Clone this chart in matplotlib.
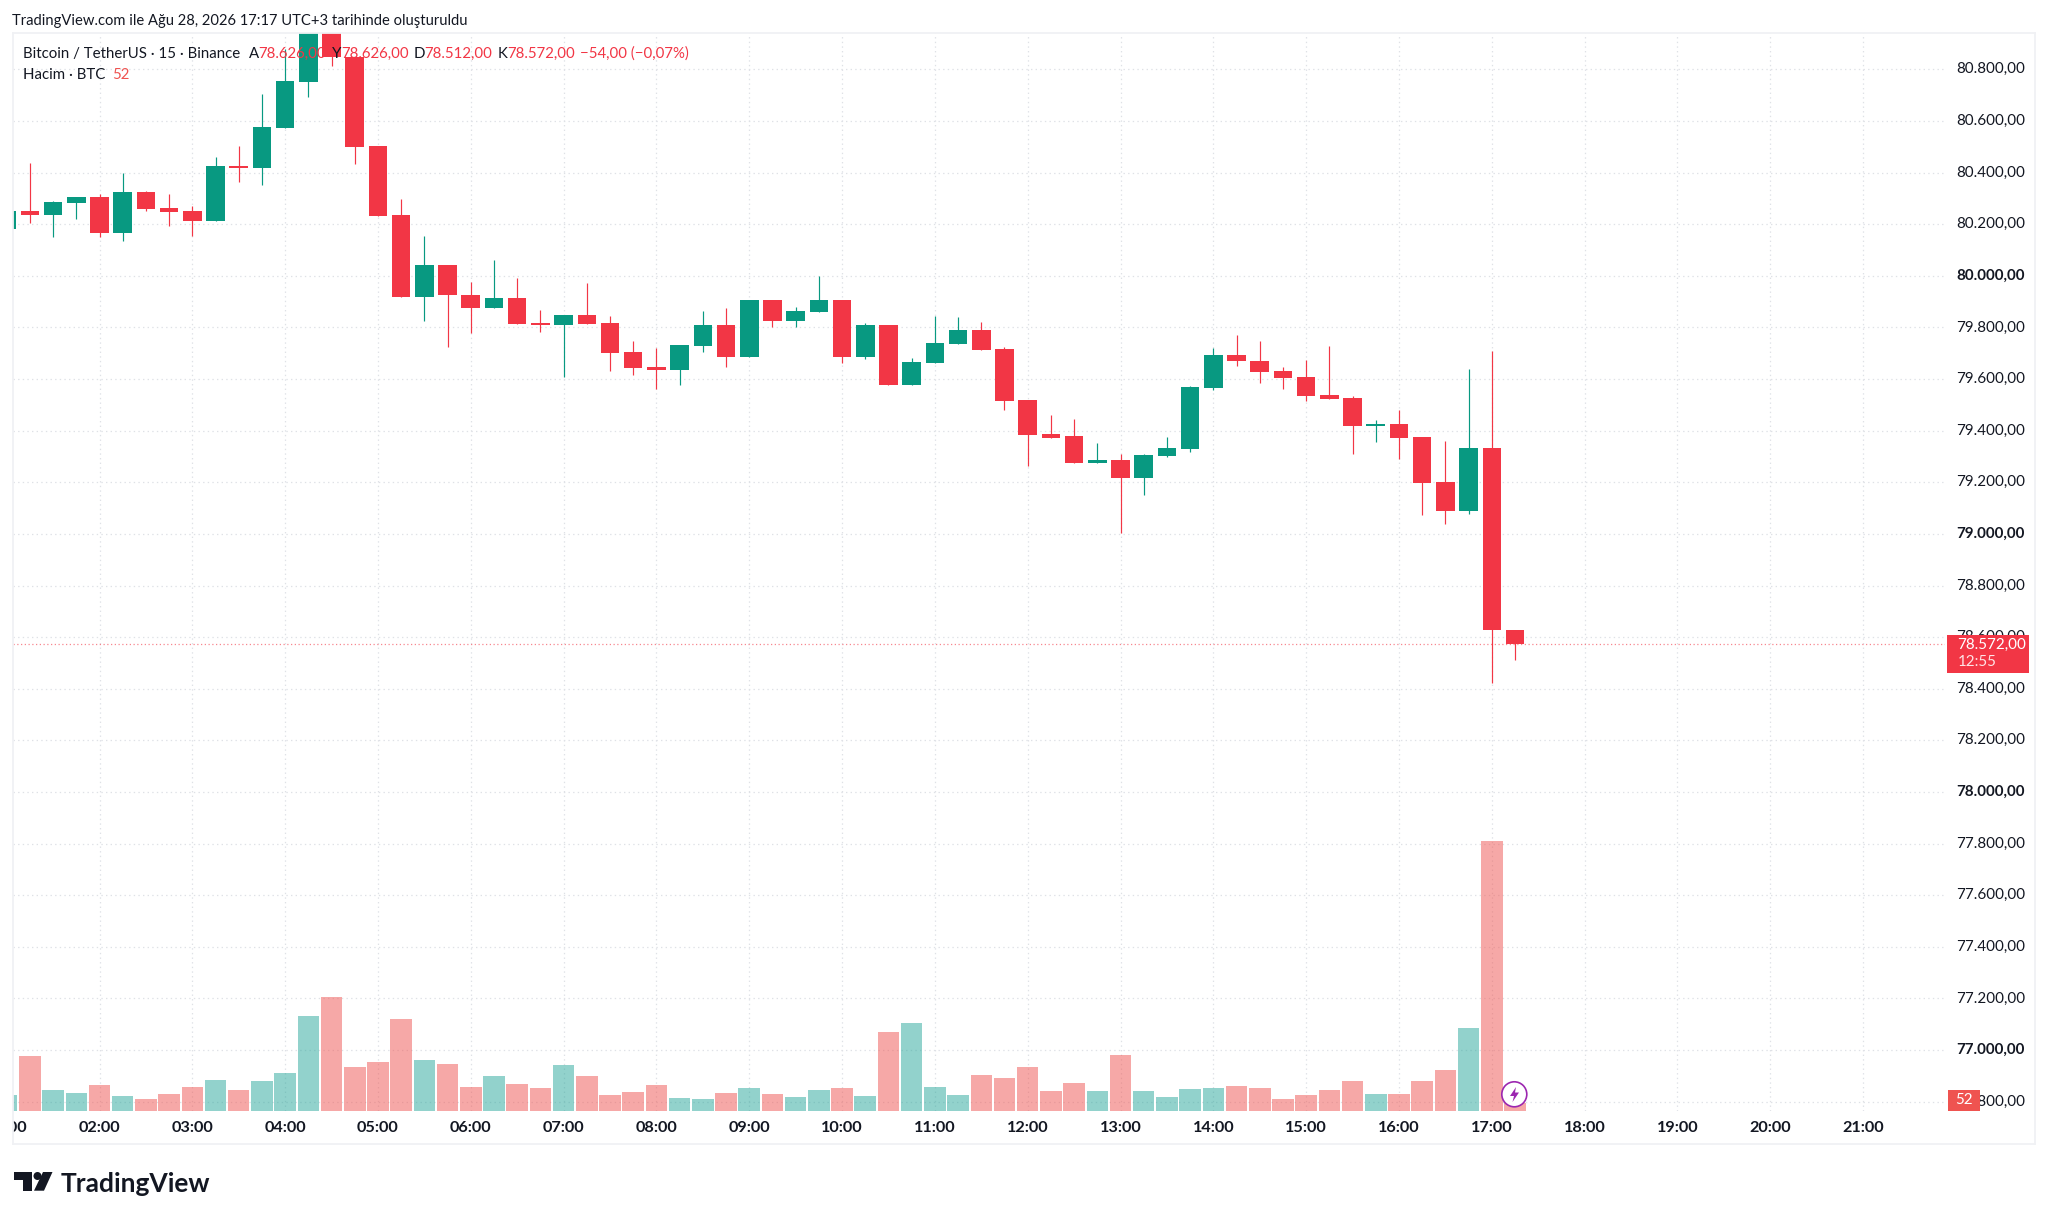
import numpy as np
import matplotlib
matplotlib.use('Agg')
import matplotlib.pyplot as plt
from matplotlib.patches import Circle, Polygon, Rectangle
from matplotlib.transforms import Affine2D, Bbox, blended_transform_factory

plt.rcParams['font.family'] = ['Lato', 'DejaVu Sans']

# 15 minute candles, first one is 01:00
opens = [80182, 80252, 80237, 80283, 80305, 80164, 80325, 80263, 80251, 80214, 80425,
         80416, 80573, 80752, 80995, 80846, 80504, 80235, 79916, 80042, 79927, 79874,
         79913, 79817, 79809, 79847, 79816, 79706, 79645, 79634, 79729, 79809, 79684,
         79905, 79825, 79860, 79905, 79687, 79809, 79577, 79661, 79737, 79790, 79718,
         79517, 79386, 79378, 79276, 79286, 79218, 79300, 79329, 79565, 79694, 79671,
         79630, 79606, 79538, 79526, 79417, 79424, 79374, 79201, 79087, 79331, 78626]
highs = [80252, 80436, 80290, 80305, 80317, 80398, 80328, 80317, 80270, 80461, 80504,
         80706, 80880, 81040, 81030, 80846, 80504, 80297, 80155, 80042, 79976, 80061,
         79991, 79867, 79847, 79972, 79843, 79747, 79720, 79732, 79864, 79874, 79905,
         79905, 79878, 79999, 79905, 79817, 79809, 79680, 79844, 79839, 79821, 79724,
         79517, 79461, 79445, 79351, 79308, 79310, 79374, 79573, 79720, 79770, 79747,
         79648, 79674, 79728, 79534, 79441, 79480, 79377, 79359, 79638, 79709, 78626]
lows = [80182, 80206, 80152, 80220, 80152, 80136, 80251, 80193, 80155, 80214, 80362,
        80352, 80573, 80694, 80813, 80434, 80232, 79916, 79825, 79724, 79777, 79874,
        79813, 79782, 79608, 79813, 79632, 79617, 79561, 79577, 79706, 79648, 79684,
        79802, 79802, 79860, 79663, 79679, 79577, 79577, 79661, 79737, 79714, 79480,
        79263, 79373, 79276, 79276, 79002, 79151, 79297, 79317, 79557, 79652, 79583,
        79561, 79515, 79523, 79310, 79357, 79289, 79072, 79038, 79077, 78424, 78512]
closes = [80252, 80237, 80286, 80305, 80164, 80325, 80259, 80247, 80214, 80424, 80419,
          80576, 80756, 80995, 80846, 80500, 80232, 79916, 80042, 79924, 79874, 79913,
          79813, 79809, 79847, 79813, 79702, 79641, 79634, 79732, 79809, 79684, 79905,
          79825, 79864, 79905, 79687, 79809, 79577, 79665, 79740, 79790, 79714, 79516,
          79383, 79373, 79276, 79286, 79218, 79304, 79331, 79569, 79694, 79668, 79626,
          79603, 79535, 79523, 79417, 79424, 79370, 79198, 79089, 79331, 78626, 78572]
volumes = [112, 388, 148, 126, 183, 105, 86, 119, 169, 219, 148, 212, 269, 676, 812, 309,
           345, 655, 362, 331, 169, 248, 190, 162, 326, 248, 112, 133, 183, 90, 83, 126,
           162, 119, 98, 148, 162, 105, 564, 626, 169, 112, 255, 233, 309, 140, 198, 140,
           395, 140, 98, 155, 162, 176, 162, 86, 112, 148, 212, 119, 119, 212, 290, 590,
           1925, 52]

hours = list(range(2, 22))
price_ticks = list(range(76800, 81000, 200))
last_price = 78572
last_volume = 52

W, H = 2048, 1219
GREEN = '#089981'
RED = '#f23645'
VOL_GREEN = '#26a69a'
VOL_RED = '#ef5350'
DARK = '#131722'
FRAME = '#f0f1f4'
GRID = '#dfe1e6'
FS_TICK = 10.9
FS_TIME = 11.7
FS_LEGEND = 10.8
FS_TITLE = 10.6

# pixel coordinates with y going down, for the page furniture
px = Affine2D().scale(1, -1).translate(0, H)

fig = plt.figure(figsize=(W / 100, H / 100), dpi=100, facecolor='white')
left, right, top, bottom = 12.5, 1945, 33, 1110.7
ax = fig.add_axes([left / W, 1 - bottom / H, (right - left) / W, (bottom - top) / H])

# scale: 0.2581 px per USD, 92.82 px per hour
ax.set_xlim(2 + (left - 99.5) / 92.82, 2 + (right - 99.5) / 92.82)
ax.set_ylim(80800 - (bottom - 69.3) / 0.2581, 80800 + (69.3 - top) / 0.2581)

t = 1 + 0.25 * np.arange(len(opens))
o, h, l, c = map(np.array, (opens, highs, lows, closes))
up = c >= o
colors = [GREEN if u else RED for u in up]

ax.set_axisbelow(True)
ax.grid(True, color=GRID, lw=0.9, ls=(0, (1.1, 2.6)))
ax.vlines(t, l, h, colors=colors, lw=0.85, zorder=2)
ax.bar(t, np.abs(c - o), bottom=np.minimum(o, c), width=0.2, color=colors, lw=0, zorder=3)
ax.axhline(last_price, color=RED, lw=0.9, ls=(0, (1, 2)), alpha=0.6, zorder=1.8)

# volume on its own scale, 0.14 px per BTC
ax_vol = ax.twinx()
ax_vol.set_ylim(0, (bottom - top) / 0.14)
ax_vol.axis('off')
vol_colors = [VOL_GREEN if u else VOL_RED for u in up]
ax_vol.bar(t, volumes, width=0.232, color=vol_colors, alpha=0.5, lw=0)

ax.set_xticks(hours)
ax.set_xticklabels(['%02d:00' % x for x in hours])
ax.set_yticks(price_ticks)
ax.set_yticklabels([('%s,00' % format(p, ',')).replace(',', '.', 1) for p in price_ticks])
# twinx moved the ticks to the left, put them back
ax.yaxis.tick_right()
ax.tick_params(axis='both', length=0, labelcolor=DARK)
ax.tick_params(axis='y', pad=8.2, labelsize=FS_TICK)
ax.tick_params(axis='x', pad=7.2, labelsize=FS_TIME)
for lab in ax.get_xticklabels():
    lab.set_fontweight('bold')
for lab, p in zip(ax.get_yticklabels(), price_ticks):
    lab.set_va('center')
    if p % 1000 == 0:
        lab.set_fontweight('bold')
for sp in ax.spines.values():
    sp.set_visible(False)

# the half hidden 01:00 at the left edge
first = ax.text(1, -0.0165, '01:00', transform=blended_transform_factory(ax.transData, ax.transAxes),
                ha='center', va='center', color=DARK, fontsize=FS_TIME, fontweight='bold')
first.set_clip_path(None)
first.set_clip_box(Bbox.from_extents(left, 0, 200, H))
first.set_clip_on(True)

# price label on the scale
tr = blended_transform_factory(ax.transAxes, ax.transData)
ax.add_patch(Rectangle((1.001, last_price - 110), 0.0425, 147, transform=tr, color=RED,
                       lw=0, clip_on=False, zorder=5))
ax.text(1.0065, last_price - 4, '78.572,00', transform=tr, color='white', fontsize=FS_TICK,
        va='center', zorder=6)
ax.text(1.0065, last_price - 70, '12:55', transform=tr, color='#ffe3e5', fontsize=FS_TICK,
        va='center', zorder=6)

# volume label on the scale
tr_vol = blended_transform_factory(ax_vol.transAxes, ax_vol.transData)
ax_vol.add_patch(Rectangle((1.0015, 0), 0.0165, 148, transform=tr_vol, color=VOL_RED,
                           lw=0, clip_on=False, zorder=5))
ax_vol.text(1.0098, 74, str(last_volume), transform=tr_vol, color='white', fontsize=FS_TICK,
            ha='center', va='center', zorder=6)

# frame around the chart
for xs, ys in [((12.5, 2035), (33, 33)), ((12.5, 2035), (1144, 1144)),
               ((12.5, 12.5), (33, 1144)), ((2035, 2035), (33, 1144))]:
    fig.add_artist(plt.Line2D(xs, ys, color=FRAME, lw=1.3, transform=px))

# lightning badge
fig.add_artist(Circle((1514.3, 1094.3), 12.5, fc='white', ec='#9c27b0', lw=1.2, transform=px, zorder=4))
fig.add_artist(Polygon([(1516, 1087), (1510, 1096), (1514, 1096), (1512.5, 1102), (1519, 1092.5), (1515, 1092.5)],
                       closed=True, fc='#9c27b0', lw=0, transform=px, zorder=5))

fig.text(12.5, 21, 'TradingView.com ile Ağu 28, 2026 17:17 UTC+3 tarihinde oluşturuldu', transform=px,
         color=DARK, fontsize=FS_TITLE, va='center')

# legend rows
legend_y = 54
for x, s, col in [(23, 'Bitcoin / TetherUS · 15 · Binance', DARK), (249, 'A', DARK), (258, '78.626,00', RED),
                  (332, 'Y', DARK), (341, '78.626,00', RED), (414, 'D', DARK), (424, '78.512,00', RED),
                  (498, 'K', DARK), (507, '78.572,00', RED), (580, '−54,00 (−0,07%)', RED)]:
    fig.text(x, legend_y, s, transform=px, color=col, fontsize=FS_LEGEND, va='center')
fig.text(23, 75, 'Hacim · BTC', transform=px, color=DARK, fontsize=FS_LEGEND, va='center')
fig.text(112, 75, str(last_volume), transform=px, color=VOL_RED, fontsize=FS_LEGEND, va='center')

# TradingView logo
fig.add_artist(Polygon([(14.3, 1172), (31.5, 1172), (31.5, 1190.7), (22.5, 1190.7), (22.5, 1180), (14.3, 1180)],
                       closed=True, fc=DARK, lw=0, transform=px))
fig.add_artist(Circle((37.5, 1176), 4, fc=DARK, lw=0, transform=px))
fig.add_artist(Polygon([(43, 1172), (52.5, 1172), (44, 1190.7), (34, 1190.7)],
                       closed=True, fc=DARK, lw=0, transform=px))
fig.text(61, 1184, 'TradingView', transform=px, color=DARK, fontsize=19, fontweight='bold', va='center')

fig.savefig('out.png', dpi=100, facecolor='white')
